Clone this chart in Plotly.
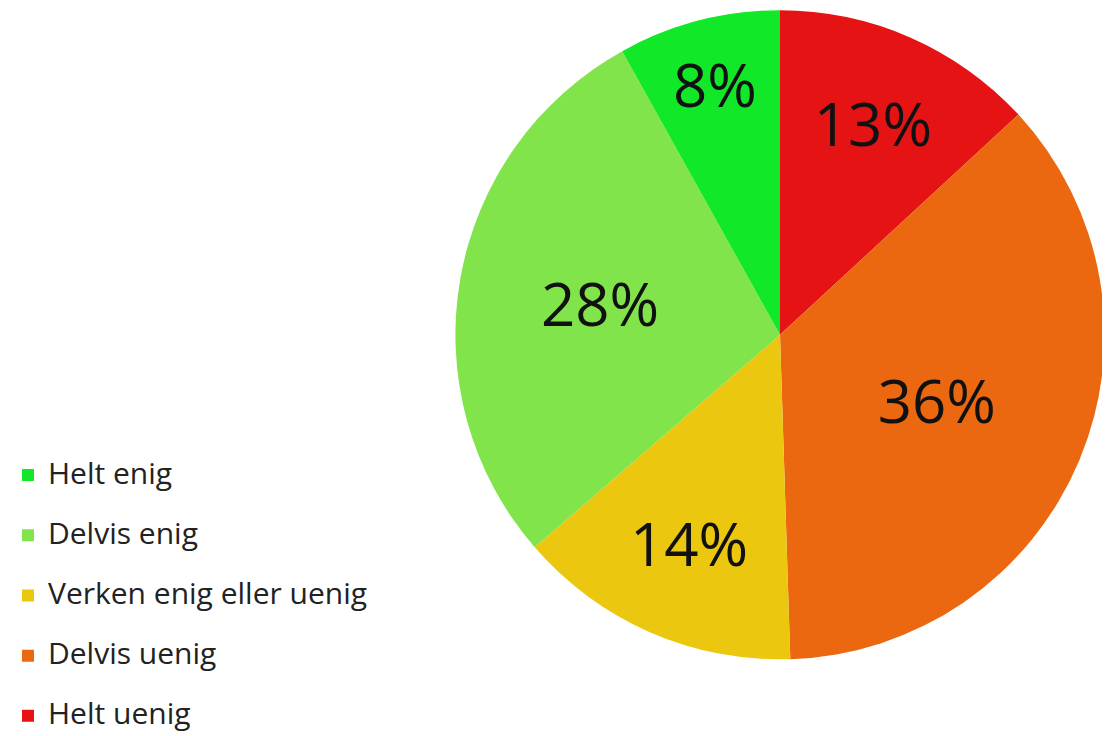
import plotly.graph_objects as go

labels = ["Helt enig", "Delvis enig", "Verken enig eller uenig", "Delvis uenig", "Helt uenig"]
values = [8, 28, 14, 36, 13]
colors = ["#10E828", "#80E44A", "#EBC70F", "#EB6810", "#E51313"]

# drawn clockwise from 12 o'clock starting with "Helt uenig"
order = list(range(len(labels)))[::-1]
pie_labels = [f" <br><span style='font-size:30px'>{labels[i]}</span>" for i in order]
pie_values = [values[i] for i in order]
pie_colors = [colors[i] for i in order]
pie_text = [f"{values[i]}%" for i in order]

fig = go.Figure(go.Pie(
    labels=pie_labels,
    values=pie_values,
    text=pie_text,
    texttemplate="%{text}",
    textposition="inside",
    insidetextorientation="horizontal",
    textfont=dict(family="Open Sans", size=60, color="#111111"),
    marker=dict(colors=pie_colors, line=dict(width=0)),
    sort=False,
    direction="clockwise",
    rotation=0,
    hoverinfo="skip",
    domain=dict(x=[0.401, 0.99], y=[0.115, 0.997]),
))

fig.update_layout(
    width=1110, height=736,
    margin=dict(l=0, r=0, t=0, b=0),
    paper_bgcolor="white",
    plot_bgcolor="white",
    showlegend=True,
    legend=dict(
        x=0.0, y=0.01, xanchor="left", yanchor="bottom",
        font=dict(family="Open Sans", size=22, color="#222222"),
        valign="bottom",
        traceorder="reversed",
    ),
)

fig.write_html("out.html")
